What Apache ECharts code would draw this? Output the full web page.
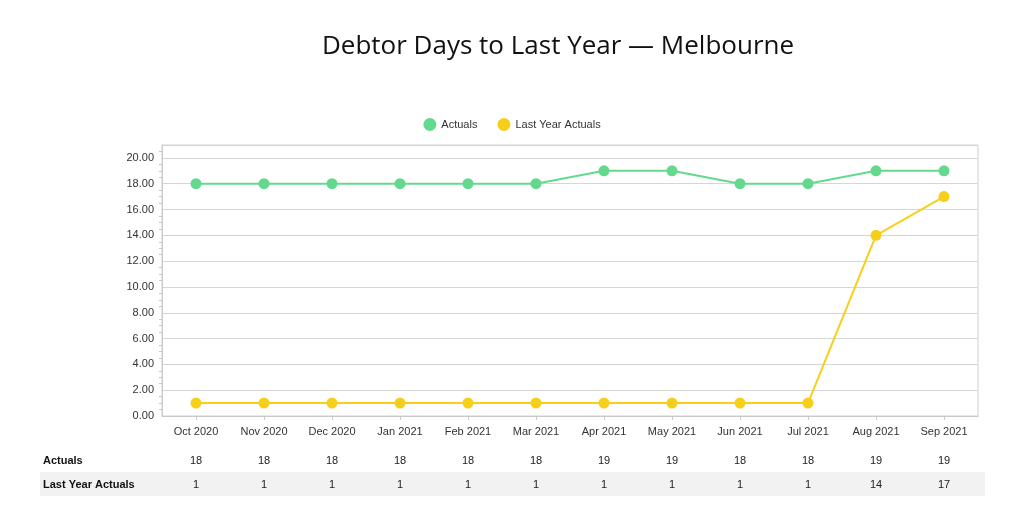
<!DOCTYPE html>
<html>
<head>
<meta charset="utf-8">
<script src="https://cdn.jsdelivr.net/npm/echarts@6/dist/echarts.min.js"></script>
<style>
  html, body { margin: 0; padding: 0; background: #fff; }
  #chart { width: 1024px; height: 523px; }
</style>
</head>
<body>
<div id="chart"></div>
<script>
// Chart data
const months = ['Oct 2020', 'Nov 2020', 'Dec 2020', 'Jan 2021', 'Feb 2021', 'Mar 2021',
    'Apr 2021', 'May 2021', 'Jun 2021', 'Jul 2021', 'Aug 2021', 'Sep 2021'];
const actuals = [18, 18, 18, 18, 18, 18, 19, 19, 18, 18, 19, 19];
const lastYearActuals = [1, 1, 1, 1, 1, 1, 1, 1, 1, 1, 14, 17];
const yTicks = [0, 2, 4, 6, 8, 10, 12, 14, 16, 18, 20];

const green = '#63d98d';
const yellow = '#f7cf1b';
const labelFont = 'Liberation Sans';

const chartDom = document.getElementById('chart');
const myChart = echarts.init(chartDom);

// a hidden category axis used as a table row under the plot
function tableRow(values, offset) {
    return {
        type: 'category',
        data: values.map(String),
        position: 'bottom',
        offset: offset,
        axisLine: { show: false },
        axisTick: { show: false },
        axisLabel: { color: '#222', fontSize: 11, fontFamily: labelFont, interval: 0 },
        splitLine: { show: false }
    };
}

const option = {
    animation: false,
    backgroundColor: '#fff',
    title: {
        text: 'Debtor Days to Last Year — Melbourne',
        left: 553,
        textAlign: 'center',
        top: 29,
        textStyle: { fontFamily: 'Open Sans', fontWeight: 'normal', fontSize: 26, color: '#111' }
    },
    legend: {
        top: 113,
        left: 'center',
        itemGap: 20,
        itemWidth: 13,
        itemHeight: 13,
        icon: 'circle',
        textStyle: { fontFamily: labelFont, fontSize: 11, color: '#333' },
        data: ['Actuals', 'Last Year Actuals']
    },
    grid: {
        left: 162,
        right: 46,
        top: 145,
        bottom: 107,
        show: true,
        borderColor: '#d0d0d0',
        borderWidth: 1
    },
    xAxis: [
        {
            type: 'category',
            data: months,
            boundaryGap: true,
            axisLine: { lineStyle: { color: '#c8c8c8' } },
            axisTick: { show: true, alignWithLabel: true, length: 4, lineStyle: { color: '#c8c8c8' } },
            axisLabel: { color: '#333', fontSize: 11, fontFamily: labelFont, margin: 10, interval: 0 }
        },
        tableRow(actuals, 31),
        tableRow(lastYearActuals, 55)
    ],
    yAxis: {
        type: 'value',
        min: 0,
        max: 21,
        interval: 2,
        axisLine: { show: true, lineStyle: { color: '#c8c8c8' } },
        axisTick: { show: false },
        minorTick: { show: true, splitNumber: 4, length: 3, lineStyle: { color: '#c8c8c8' } },
        axisLabel: {
            color: '#333',
            fontSize: 11,
            fontFamily: labelFont,
            showMaxLabel: false,
            formatter: v => (yTicks.includes(v) ? v.toFixed(2) : '')
        },
        splitLine: { lineStyle: { color: '#d6d6d6' } }
    },
    graphic: [
        {
            type: 'rect',
            shape: { x: 40, y: 472, width: 945, height: 24 },
            style: { fill: '#f2f2f2' },
            z: -10
        },
        {
            type: 'text',
            left: 43,
            top: 455,
            style: { text: 'Actuals', font: 'bold 11px "Liberation Sans"', fill: '#111' }
        },
        {
            type: 'text',
            left: 43,
            top: 479,
            style: { text: 'Last Year Actuals', font: 'bold 11px "Liberation Sans"', fill: '#111' }
        }
    ],
    series: [
        {
            name: 'Actuals',
            type: 'line',
            data: actuals,
            symbol: 'circle',
            symbolSize: 11,
            itemStyle: { color: green },
            lineStyle: { color: green, width: 2 }
        },
        {
            name: 'Last Year Actuals',
            type: 'line',
            data: lastYearActuals,
            symbol: 'circle',
            symbolSize: 11,
            itemStyle: { color: yellow },
            lineStyle: { color: yellow, width: 2 }
        }
    ]
};

myChart.setOption(option);
</script>
</body>
</html>
